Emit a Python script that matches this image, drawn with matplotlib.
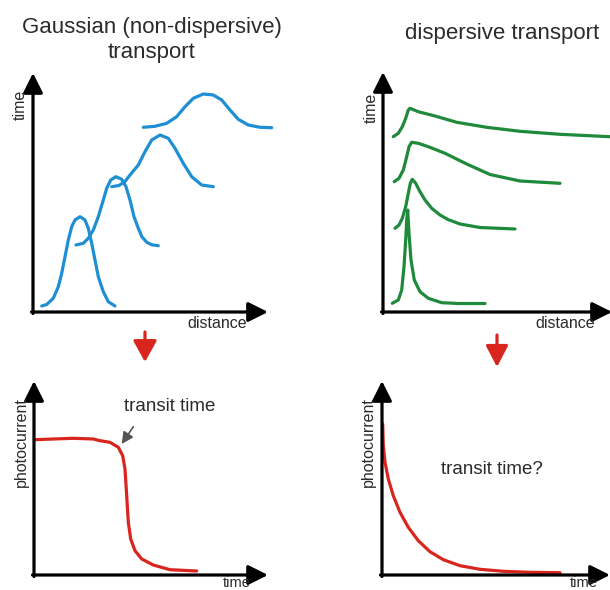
import matplotlib.pyplot as plt

# fonts
plt.rc('font', family=['Liberation Sans', 'DejaVu Sans'], size=12)

W, H = 610, 590
blue = '#1f8fd4'
green = '#1f8a3c'
red = '#d8261f'
txt = '#2b2b2b'

# Gaussian (non-dispersive) pulses: distance vs time
gauss1_x = [8.7, 13.7, 20.3, 25.3, 28.7, 32, 35.3, 38.7, 42, 47, 52, 55.3, 58.7, 62, 65.3, 70.3, 75.3, 82]
gauss1_y = [6, 7.5, 13.7, 25.3, 38.7, 55.3, 72, 85.3, 92, 95.3, 92, 83.7, 68.7, 52, 35.3, 20.3, 10.3, 6]
gauss2_x = [43, 50.3, 55.3, 60.3, 65.3, 70.3, 73.7, 77.7, 83, 88.7, 93, 97, 101, 105.3, 109, 114, 119, 125.3]
gauss2_y = [67, 68.7, 73.7, 82, 95.3, 112, 123.7, 132, 135.3, 132.7, 125.3, 112, 95.3, 83.7, 75, 69.5, 67.2, 66.3]
gauss3_x = [78.7, 86, 92, 97, 105.3, 112, 118.7, 127, 135.3, 142, 150.3, 158.7, 168.7, 180.3]
gauss3_y = [125.3, 126.5, 130.5, 137, 147, 160.3, 172, 177, 173.7, 163.7, 148.7, 135.3, 127, 125.3]
gauss4_x = [110.3, 122, 133.7, 143.7, 152, 160.3, 170.3, 180.3, 188.7, 197, 205.3, 215.3, 227, 238.7]
gauss4_y = [184.7, 185.7, 188.7, 195.3, 205.3, 213.7, 218, 217, 212, 202, 192.7, 187, 184.7, 184.3]

# dispersive pulses
disp1_x = [9.3, 15.3, 18.7, 21, 22.7, 23.7, 24.7, 26, 28, 31.3, 37, 45.3, 58.7, 75, 102]
disp1_y = [8.7, 12, 22, 45.3, 72, 92, 102, 78.7, 52, 32, 20.3, 13.7, 9.3, 8.5, 8.5]
disp2_x = [12, 16, 19.3, 22.7, 25.3, 27.3, 29.3, 32.7, 37, 42, 48.7, 57, 65, 77, 97, 132]
disp2_y = [83.7, 87, 93.7, 105.3, 118.7, 128.7, 132.7, 128.7, 120.3, 112, 103.7, 97, 92.5, 88, 84.5, 83]
disp3_x = [11.3, 16, 20.3, 23.7, 26, 28.7, 35.3, 45.3, 62, 83.7, 107, 137, 177]
disp3_y = [130.3, 133.7, 142, 155.3, 165.3, 169.7, 168.7, 165.3, 158.7, 148, 137.5, 131, 128.7]
disp4_x = [10.3, 15.3, 19.3, 22.7, 25.3, 27, 35.3, 52, 73.7, 103.7, 137, 177, 227]
disp4_y = [175.3, 178.7, 185.3, 193.7, 202, 203.7, 200.3, 196, 189.7, 184.7, 180.7, 177.7, 175.3]

# photocurrent transients
tof_x = [1, 19.3, 39.3, 59.3, 66, 76, 84.3, 88.7, 91, 92.7, 94.3, 96.7, 101, 107.7, 119.3, 136, 162.7]
tof_y = [135.3, 136, 136.7, 136, 134.3, 132.7, 127.7, 119.3, 106, 79.3, 52.7, 36, 24.3, 16, 10, 5.3, 4]
decay_x = [0.7, 1.3, 3, 6.3, 11.3, 18, 26.3, 36.3, 48, 61.3, 78, 98, 121.3, 148, 178]
decay_y = [151, 129.3, 112.7, 96, 79.3, 62.7, 47.7, 34.3, 23.3, 15.3, 9.3, 5.7, 3.7, 2.7, 2.3]


def panel(x0, y0, w, h, ox, oy):
    # axes in pixel units, origin of the drawn axes at (ox, oy)
    ax = fig.add_axes([x0 / W, 1 - (y0 + h) / H, w / W, h / H])
    ax.set_xlim(x0 - ox, x0 + w - ox)
    ax.set_ylim(oy - (y0 + h), oy - y0)
    ax.axis('off')
    ax.patch.set_alpha(0)
    return ax


def arrow(ax, start, end, color='black', lw=2.3, style='-|>,head_length=0.6,head_width=0.3', ms=20):
    ax.annotate('', xy=end, xytext=start, annotation_clip=False,
                arrowprops=dict(arrowstyle=style, color=color, lw=lw,
                                mutation_scale=ms, shrinkA=0, shrinkB=0))


def axis_arrows(ax, xlen, ylen):
    arrow(ax, (-1.5, 0), (xlen, 0))
    arrow(ax, (0, -1.5), (0, ylen))


fig = plt.figure(figsize=(W / 100, H / 100), dpi=100)

ax1 = panel(0, 60, 305, 310, 33, 312)
ax2 = panel(305, 60, 305, 310, 383, 312)
ax3 = panel(0, 370, 305, 220, 34, 575)
ax4 = panel(305, 370, 305, 220, 382, 575)

kw = dict(lw=2.3, solid_capstyle='round', solid_joinstyle='round')
for gx, gy in [(gauss1_x, gauss1_y), (gauss2_x, gauss2_y), (gauss3_x, gauss3_y), (gauss4_x, gauss4_y)]:
    ax1.plot(gx, gy, color=blue, **kw)
for dx, dy in [(disp1_x, disp1_y), (disp2_x, disp2_y), (disp3_x, disp3_y), (disp4_x, disp4_y)]:
    ax2.plot(dx, dy, color=green, **kw)
ax3.plot(tof_x, tof_y, color=red, **kw)
ax4.plot(decay_x, decay_y, color=red, **kw)

axis_arrows(ax1, 235, 239)
axis_arrows(ax2, 229, 240)
axis_arrows(ax3, 234, 194)
axis_arrows(ax4, 228, 194)

# axis labels
ax1.text(-13, 207, 'time', rotation=90, ha='center', va='center', fontsize=11.5, color=txt)
ax2.text(-11.5, 204, 'time', rotation=90, ha='center', va='center', fontsize=11.5, color=txt)
ax1.text(183.7, -4, 'distance', ha='center', va='top', fontsize=11.5, color=txt)
ax2.text(182, -4, 'distance', ha='center', va='top', fontsize=11.5, color=txt)
ax3.text(-12.3, 133.3, 'photocurrent', rotation=90, ha='center', va='center', fontsize=11.5, color=txt)
ax4.text(-13.7, 132.5, 'photocurrent', rotation=90, ha='center', va='center', fontsize=11.5, color=txt)
ax3.text(202.7, -11.7, 'time', ha='center', va='baseline', fontsize=10.5, color=txt)
ax4.text(201.3, -11.7, 'time', ha='center', va='baseline', fontsize=10.5, color=txt)

# transit time notes
ax3.text(136, 168.3, 'transit time', ha='center', va='center', fontsize=13.5, color=txt)
arrow(ax3, (99.3, 148.3), (87.7, 131), color='#555555', lw=1.2,
      style='-|>,head_length=0.5,head_width=0.25', ms=14)
ax4.text(109.7, 105, 'transit time?', ha='center', va='center', fontsize=13.5, color=txt)

# red arrows between rows
arrow(ax1, (112, -20), (112, -50), color=red, lw=2.3, style='-|>,head_length=0.65,head_width=0.36')
arrow(ax2, (114, -23), (114, -55), color=red, lw=2.3, style='-|>,head_length=0.65,head_width=0.34')

# titles
fig.text(152 / W, 1 - 40 / H, 'Gaussian (non-dispersive)\ntransport', ha='center', va='center',
         fontsize=16, color=txt, linespacing=1.3)
fig.text(502 / W, 1 - 34 / H, 'dispersive transport', ha='center', va='center', fontsize=16, color=txt)

plt.savefig('out.png', dpi=100)
